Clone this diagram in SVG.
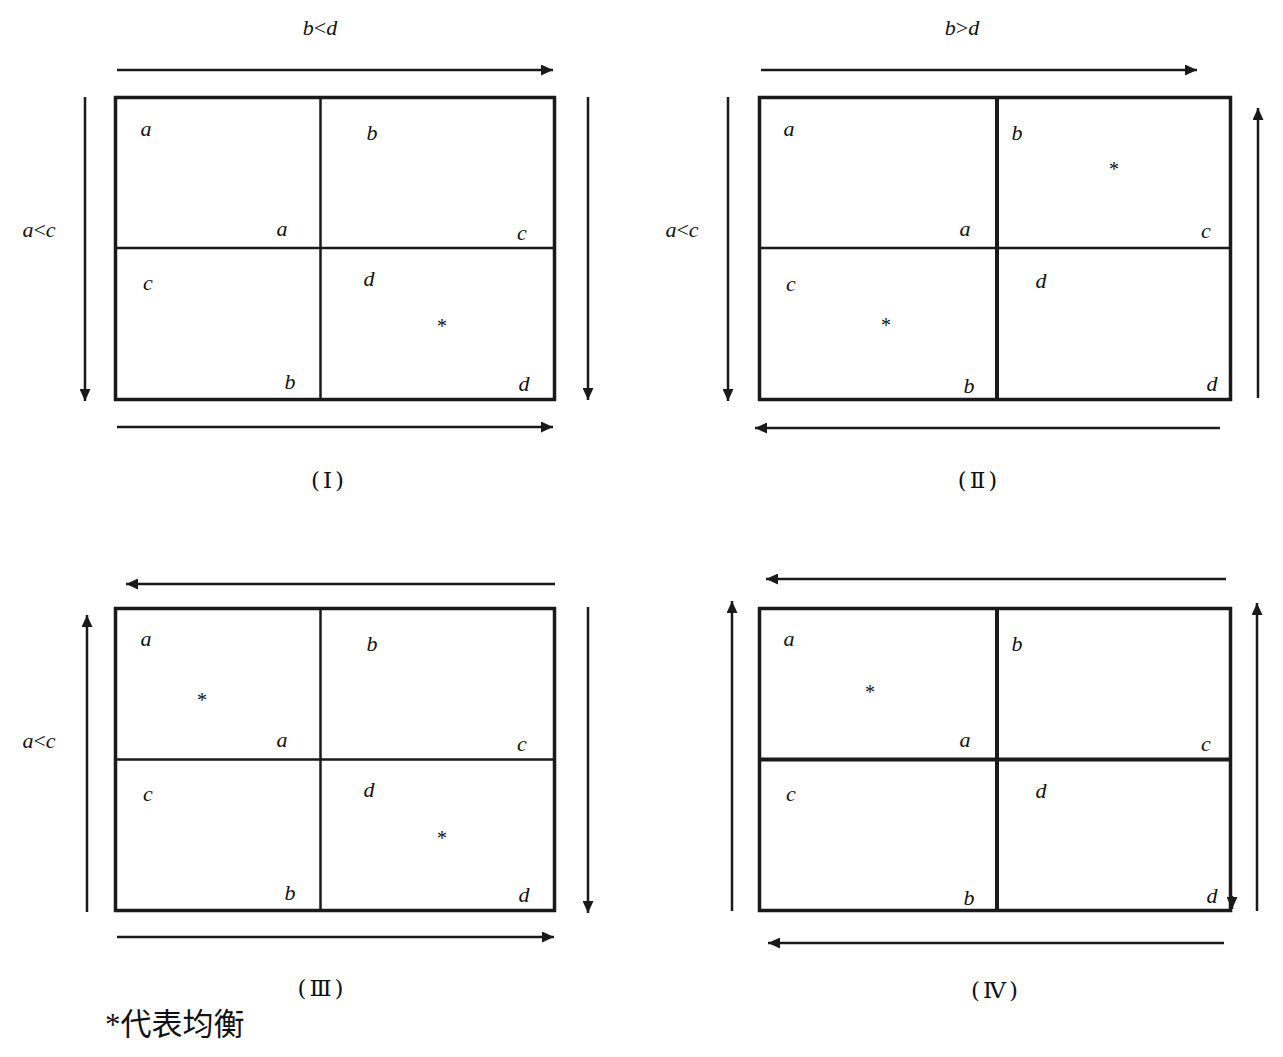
<svg xmlns="http://www.w3.org/2000/svg" width="1283" height="1057" viewBox="0 0 1283 1057">
<defs>
<style>
.box{fill:none;stroke:#1a1a1a;stroke-width:3.5}
.div{stroke:#1a1a1a;stroke-width:2.5}
.divb{stroke:#1a1a1a;stroke-width:4}
.arr{stroke:#1a1a1a;stroke-width:2.5;fill:none;marker-end:url(#ah)}
.lt{font-family:"Liberation Serif",serif;font-style:italic;font-size:22px;fill:#111;text-anchor:middle}
.st{font-family:"Liberation Serif",serif;font-size:20px;fill:#111;text-anchor:middle}
.hd{font-family:"Liberation Serif",serif;font-size:22px;fill:#111;text-anchor:middle}
.rn{font-family:"DejaVu Serif","Liberation Serif","Noto Sans CJK SC",serif;font-size:23px;fill:#111;text-anchor:middle;letter-spacing:3px}
.ft{font-family:"Liberation Serif","Noto Sans CJK SC",sans-serif;font-size:31px;fill:#111}
</style>
<marker id="ah" markerUnits="userSpaceOnUse" markerWidth="13" markerHeight="11" refX="12" refY="5.5" orient="auto">
<path d="M0,0 L12,5.5 L0,11 Z" fill="#1a1a1a"/>
</marker>
</defs>
<rect width="1283" height="1057" fill="#fff"/>

<g id="connectors">
<!-- Panel I -->
<line class="arr" x1="117" y1="70" x2="553" y2="70"/>
<line class="arr" x1="117" y1="427" x2="553" y2="427"/>
<line class="arr" x1="85" y1="97" x2="85" y2="401"/>
<line class="arr" x1="588" y1="97" x2="588" y2="400"/>
<!-- Panel II -->
<line class="arr" x1="761" y1="70" x2="1197" y2="70"/>
<line class="arr" x1="1220" y1="428" x2="755" y2="428"/>
<line class="arr" x1="728" y1="97" x2="728" y2="401"/>
<line class="arr" x1="1258" y1="398" x2="1258" y2="108"/>
<!-- Panel III -->
<line class="arr" x1="555" y1="584" x2="126" y2="584"/>
<line class="arr" x1="117" y1="937" x2="554" y2="937"/>
<line class="arr" x1="87" y1="912" x2="87" y2="615"/>
<line class="arr" x1="588" y1="607" x2="588" y2="913"/>
<!-- Panel IV -->
<line class="arr" x1="1226" y1="579" x2="766" y2="579"/>
<line class="arr" x1="1224" y1="943" x2="768" y2="943"/>
<line class="arr" x1="732" y1="911" x2="732" y2="601"/>
<line class="arr" x1="1257" y1="911" x2="1257" y2="603"/>
<line class="arr" x1="1232" y1="896" x2="1232" y2="909"/>
</g>

<g id="panel-I">
<rect class="box" x="115.5" y="97.5" width="439" height="302"/>
<line class="div" x1="320.5" y1="97" x2="320.5" y2="400"/>
<line class="div" x1="115" y1="248" x2="555" y2="248"/>
<text class="hd" x="320" y="35"><tspan font-style="italic">b</tspan>&lt;<tspan font-style="italic">d</tspan></text>
<text class="hd" x="39" y="237"><tspan font-style="italic">a</tspan>&lt;<tspan font-style="italic">c</tspan></text>
<text class="lt" x="146" y="136">a</text>
<text class="lt" x="282" y="236">a</text>
<text class="lt" x="372" y="140">b</text>
<text class="lt" x="522" y="240">c</text>
<text class="lt" x="148" y="290">c</text>
<text class="lt" x="369" y="286">d</text>
<text class="st" x="442" y="333">*</text>
<text class="lt" x="290" y="389">b</text>
<text class="lt" x="524" y="391">d</text>
<text class="rn" x="329" y="488">(Ⅰ)</text>
</g>

<g id="panel-II">
<rect class="box" x="759.5" y="97.5" width="471" height="302"/>
<line class="divb" x1="997" y1="97" x2="997" y2="400"/>
<line class="div" x1="759" y1="248" x2="1231" y2="248" stroke-width="3"/>
<text class="hd" x="962" y="35"><tspan font-style="italic">b</tspan>&gt;<tspan font-style="italic">d</tspan></text>
<text class="hd" x="682" y="237"><tspan font-style="italic">a</tspan>&lt;<tspan font-style="italic">c</tspan></text>
<text class="lt" x="789" y="136">a</text>
<text class="lt" x="965" y="236">a</text>
<text class="lt" x="1017" y="140">b</text>
<text class="st" x="1114" y="176">*</text>
<text class="lt" x="1206" y="238">c</text>
<text class="lt" x="791" y="291">c</text>
<text class="st" x="886" y="332">*</text>
<text class="lt" x="969" y="393">b</text>
<text class="lt" x="1041" y="288">d</text>
<text class="lt" x="1212" y="391">d</text>
<text class="rn" x="979" y="488">(Ⅱ)</text>
</g>

<g id="panel-III">
<rect class="box" x="115.5" y="608.5" width="439" height="302"/>
<line class="div" x1="320.5" y1="608" x2="320.5" y2="911"/>
<line class="div" x1="115" y1="759.5" x2="555" y2="759.5" stroke-width="3.5"/>
<text class="hd" x="39" y="748"><tspan font-style="italic">a</tspan>&lt;<tspan font-style="italic">c</tspan></text>
<text class="lt" x="146" y="646">a</text>
<text class="st" x="202" y="707">*</text>
<text class="lt" x="282" y="747">a</text>
<text class="lt" x="372" y="651">b</text>
<text class="lt" x="522" y="751">c</text>
<text class="lt" x="148" y="801">c</text>
<text class="lt" x="290" y="900">b</text>
<text class="lt" x="369" y="797">d</text>
<text class="st" x="442" y="845">*</text>
<text class="lt" x="524" y="902">d</text>
<text class="rn" x="322" y="996">(Ⅲ)</text>
</g>

<g id="panel-IV">
<rect class="box" x="759.5" y="608.5" width="471" height="302" stroke-width="4"/>
<line class="divb" x1="997" y1="608" x2="997" y2="911"/>
<line class="divb" x1="759" y1="759.5" x2="1231" y2="759.5"/>
<text class="lt" x="789" y="646">a</text>
<text class="st" x="870" y="699">*</text>
<text class="lt" x="965" y="747">a</text>
<text class="lt" x="1017" y="651">b</text>
<text class="lt" x="1206" y="751">c</text>
<text class="lt" x="791" y="801">c</text>
<text class="lt" x="1041" y="798">d</text>
<text class="lt" x="969" y="905">b</text>
<text class="lt" x="1212" y="903">d</text>
<text class="rn" x="996" y="998">(Ⅳ)</text>
</g>

<g id="legend">
<text class="ft" x="105" y="1035">*代表均衡</text>
</g>
</svg>
